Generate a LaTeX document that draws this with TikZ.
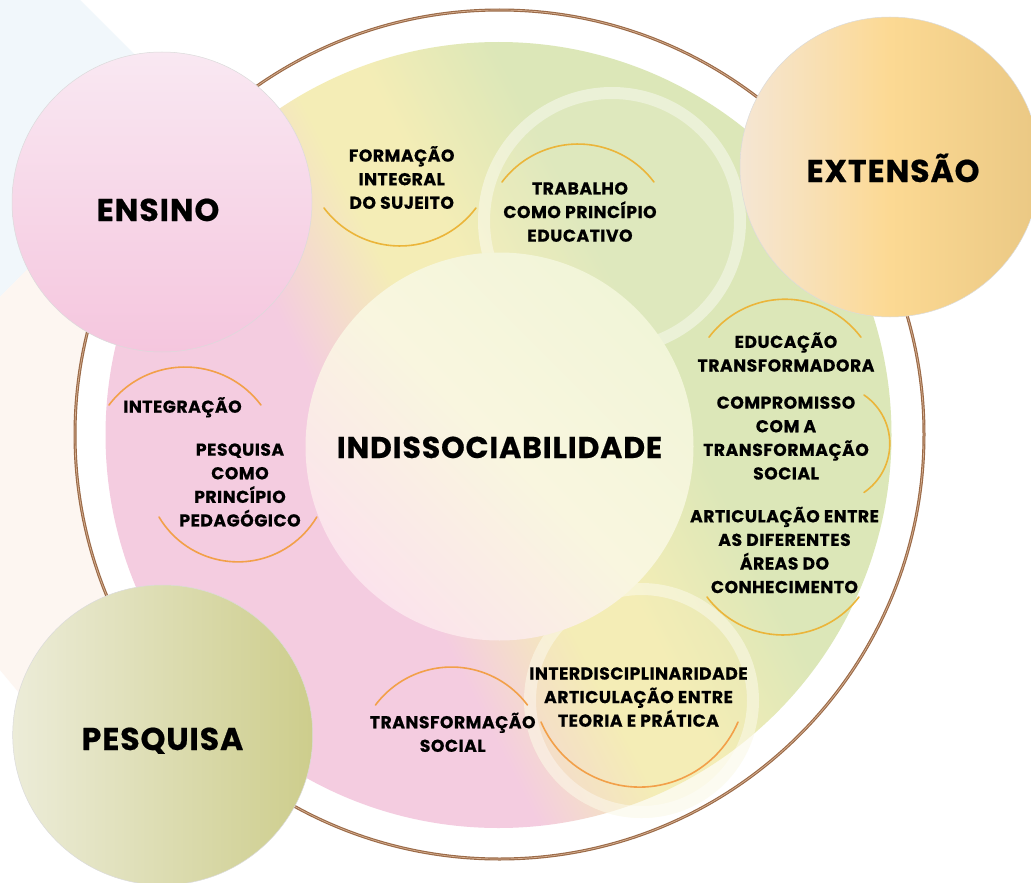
\documentclass[tikz,border=0pt]{standalone}
\usepackage{fontspec}
\setmainfont{Poppins}[BoldFeatures={FakeBold=0.6,LetterSpace=3}]
\definecolor{ringbrown}{HTML}{9A6A48}
\definecolor{ringlight}{HTML}{D9B293}
\definecolor{bgblue}{HTML}{F1F7FB}
\definecolor{bgcream}{HTML}{FDF6F1}
\definecolor{discpink}{HTML}{F4CCE0}
\definecolor{discyellow}{HTML}{F4EDB6}
\definecolor{discgreen}{HTML}{DCE7B8}
\definecolor{cpink}{HTML}{FBE3EC}
\definecolor{cyellow}{HTML}{F9F6DF}
\definecolor{cgreen}{HTML}{F1F5D8}
\definecolor{ensinotop}{HTML}{F9E8F2}
\definecolor{ensinobot}{HTML}{F5C6DE}
\definecolor{extleft}{HTML}{F5E6D4}
\definecolor{extmid}{HTML}{FCD993}
\definecolor{extright}{HTML}{EAC884}
\definecolor{pesqleft}{HTML}{ECECD8}
\definecolor{pesqright}{HTML}{CDCD8C}
\definecolor{arcgold}{HTML}{EBB53A}
\definecolor{arcorange}{HTML}{F2A049}
\pgfdeclareverticalshading{discshade}{100bp}{color(0bp)=(discpink); color(41bp)=(discpink); color(48.5bp)=(discyellow); color(53bp)=(discyellow); color(61bp)=(discgreen); color(100bp)=(discgreen)}
\newcommand{\lnstrut}{\rule[-0.3em]{0pt}{1em}}
\begin{document}
\begin{tikzpicture}[x=1pt,y=1pt,
  lbl/.style={font=\bfseries\fontsize{17.2}{23.6}\selectfont, align=center, inner sep=0pt, text=black},
  bigl/.style={font=\bfseries\fontsize{31.5}{36}\selectfont, inner sep=0pt, text=black},
  arcg/.style={draw=arcgold, line width=1.6pt, line cap=round},
  arco/.style={draw=arcorange, line width=1.6pt, line cap=round},
  bubble/.style={draw=black!14, line width=0.5pt},
  halo/.style={draw=white, draw opacity=0.4, line width=12pt}
]
\useasboundingbox (0,0) rectangle (1031,-883);
\fill[white] (0,0) rectangle (1031,-883);
% background shapes
\fill[bgblue] (0,0) -- (80,0) -- (187,-107) -- (0,-297) -- cycle;
\fill[bgcream] (0,-297) -- (150,-145) -- (350,-345) -- (60,-742) -- (0,-670) -- cycle;
% outer ring
\fill[white] (499.5,-434.5) circle[radius=424.5pt];
\draw[ringbrown, line width=3pt] (499.5,-434.5) circle[radius=424.5pt];
\draw[ringlight, line width=0.7pt] (499.5,-434.5) circle[radius=424.5pt];
% main disc
\shade[shading=discshade, shading angle=-63] (498.5,-435) circle[radius=393pt];
% inner light circles
\fill[white, opacity=0.08] (612,-221) circle[radius=134pt];
\draw[halo] (612,-221) circle[radius=128pt];
\fill[discyellow, opacity=0.3] (641.5,-700.5) circle[radius=117.5pt];
\draw[halo] (641.5,-700.5) circle[radius=111.5pt];
% central circle
\shade[top color=cgreen, bottom color=cpink, middle color=cyellow, shading angle=-45]
  (499.5,-446.5) circle[radius=194pt];
% three pillars
\shade[bubble, top color=ensinotop, bottom color=ensinobot] (162,-202) circle[radius=150pt];
\shade[bubble, left color=extleft, right color=extright, middle color=extmid] (890,-167) circle[radius=150pt];
\shade[bubble, left color=pesqleft, right color=pesqright] (162.7,-735) circle[radius=150pt];
% arcs
\draw[arcg] (324,-208) arc[start angle=-143.1, end angle=-36.9, radius=95pt];
\draw[arcg] (502,-182) arc[start angle=-216.9, end angle=-323.1, radius=95pt];
\draw[arco] (109,-405) arc[start angle=-216.9, end angle=-323.1, radius=95pt];
\draw[arco] (159,-517) arc[start angle=-149.25, end angle=-30.75, radius=91.8pt];
\draw[arcg] (709,-337.2) arc[start angle=-216.9, end angle=-323.1, radius=95pt];
\draw[arcg] (864,-395) arc[start angle=55.8, end angle=-55.8, radius=58.9pt];
\draw[arcg] (707,-597) arc[start angle=-143.1, end angle=-36.9, radius=95pt];
\draw[arco] (375.5,-705) arc[start angle=-216.9, end angle=-323.1, radius=95pt];
\draw[arco] (541,-722) arc[start angle=-156.9, end angle=-23.1, radius=107.1pt];
% labels
\node[bigl, anchor=base] (ensino) at (158,-221) {ENSINO};
\node[bigl, anchor=base] (extensao) at (893,-182) {EXTENSÃO};
\node[bigl, anchor=base] (pesquisa) at (162.5,-750) {PESQUISA};
\node[bigl, anchor=base, font=\bfseries\fontsize{30}{36}\selectfont] (indiss) at (499.5,-458) {INDISSOCIABILIDADE};
\node[lbl] (formacao) at (401.7,-180.05) {\lnstrut FORMAÇÃO\\\lnstrut INTEGRAL\\\lnstrut DO SUJEITO};
\node[lbl] (trabalho) at (580,-214.55) {\lnstrut TRABALHO\\\lnstrut COMO PRINCÍPIO\\\lnstrut EDUCATIVO};
\node[lbl] (educacao) at (786,-354.55) {\lnstrut EDUCAÇÃO\\\lnstrut TRANSFORMADORA};
\node[lbl] (compromisso) at (786,-440.55) {\lnstrut COMPROMISSO\\\lnstrut COM A\\\lnstrut TRANSFORMAÇÃO\\\lnstrut SOCIAL};
\node[lbl] (articulacao) at (784.5,-552.55) {\lnstrut ARTICULAÇÃO ENTRE\\\lnstrut AS DIFERENTES\\\lnstrut ÁREAS DO\\\lnstrut CONHECIMENTO};
\node[lbl] (interdisc) at (638.5,-699.55) {\lnstrut INTERDISCIPLINARIDADE\\\lnstrut ARTICULAÇÃO ENTRE\\\lnstrut TEORIA E PRÁTICA};
\node[lbl] (transformacao) at (452.7,-734.9) {\lnstrut TRANSFORMAÇÃO\\\lnstrut SOCIAL};
\node[lbl, anchor=base] (integracao) at (182.5,-412.7) {INTEGRAÇÃO};
\node[lbl] (pesqprinc) at (240,-487.55) {\lnstrut PESQUISA\\\lnstrut COMO\\\lnstrut PRINCÍPIO\\\lnstrut PEDAGÓGICO};
\end{tikzpicture}
\end{document}
